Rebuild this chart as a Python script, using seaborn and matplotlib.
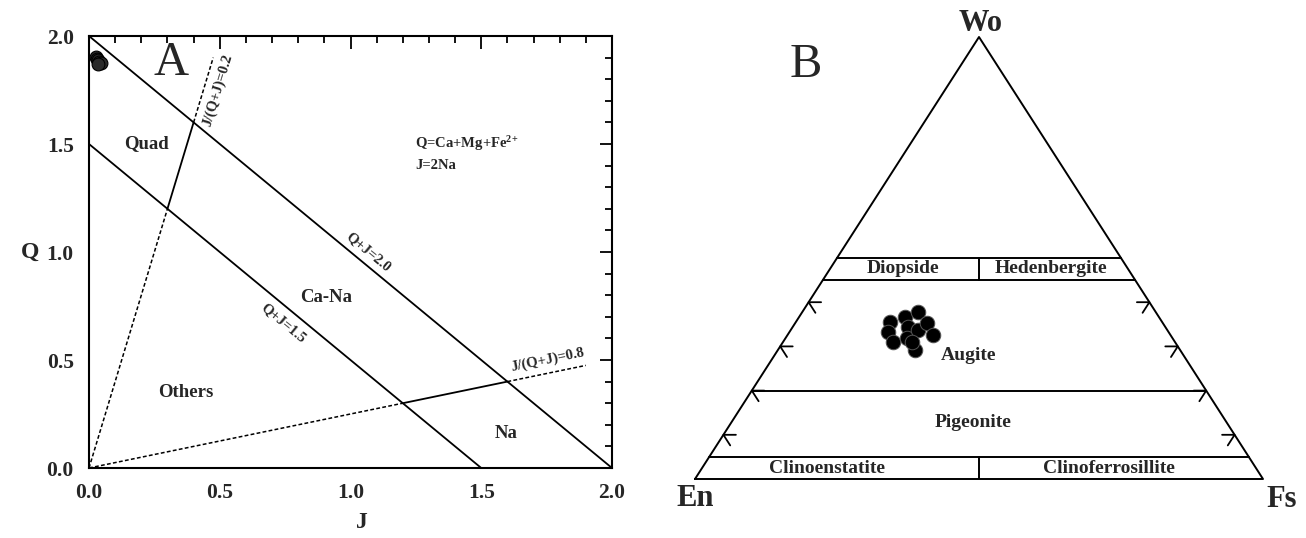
import numpy as np
import pandas as pd
import matplotlib
matplotlib.use('Agg')
import matplotlib.pyplot as plt
import seaborn as sns

# Panel A: Q-J diagram (Morimoto), analysed points near the top-left corner
qa_j = [0.025, 0.030, 0.035, 0.040, 0.045, 0.035]
qa_q = [1.905, 1.895, 1.890, 1.880, 1.875, 1.870]

sum_lines = [2.0, 1.5]                  # Q+J = const boundaries
ratio_lines = [0.2, 0.8]                # J/(Q+J) = const boundaries
ratio_breaks = [0.0, 1.5, 2.0, 2.375]   # Q+J values where the ratio lines change style

# Panel B: Wo-En-Fs ternary (mol %)
px_wo = [35.5, 33.3, 31.0, 36.6, 34.4, 31.9, 29.2, 37.8, 33.7, 35.3, 32.6, 31.0]
px_fs = [16.6, 17.3, 19.4, 18.6, 20.3, 21.4, 24.1, 20.4, 22.4, 23.2, 25.6, 22.7]

field_wo = [5, 20, 45, 50]              # horizontal field boundaries
split_bands = [(0, 5), (45, 50)]        # bands split at En = Fs
tick_wo = [10, 20, 30, 40]

sns.set_theme(style='white')
plt.rcParams['font.family'] = ['Liberation Serif', 'DejaVu Serif']
plt.rcParams['font.weight'] = 'bold'
plt.rcParams['mathtext.fontset'] = 'custom'
plt.rcParams['mathtext.rm'] = 'Liberation Serif:bold'
plt.rcParams['mathtext.bf'] = 'Liberation Serif:bold'
plt.rcParams['mathtext.default'] = 'bf'

W, H = 1306, 538
fig = plt.figure(figsize=(W / 100, H / 100), dpi=100)
fig.patch.set_facecolor('white')

# ---------------- Panel A ----------------
ax = fig.add_axes([89 / W, 1 - 468 / H, 523 / W, 432 / H])
ax.set_xlim(0, 2)
ax.set_ylim(0, 2)
lw = 1.3
for s in sum_lines:
    ax.plot([0, s], [s, 0], color='black', lw=lw)
for r in ratio_lines:
    for b0, b1 in zip(ratio_breaks[:-1], ratio_breaks[1:]):
        solid = (b0, b1) == (1.5, 2.0)
        ax.plot([r * b0, r * b1], [(1 - r) * b0, (1 - r) * b1], color='black',
                lw=lw if solid else 1.1,
                linestyle='-' if solid else (0, (2.5, 1.5)))

df_a = pd.DataFrame({'J': qa_j, 'Q': qa_q})
sns.scatterplot(data=df_a, x='J', y='Q', ax=ax, s=85, color='#2a2a2a',
                edgecolor='black', linewidth=0.8, zorder=5, clip_on=False)

ax.set_xticks([0, 0.5, 1.0, 1.5, 2.0])
ax.set_yticks([0, 0.5, 1.0, 1.5, 2.0])
ax.set_xticks(np.arange(0, 2.01, 0.1), minor=True)
ax.set_yticks(np.arange(0, 2.01, 0.1), minor=True)
ax.set_xticklabels(['0.0', '0.5', '1.0', '1.5', '2.0'])
ax.set_yticklabels(['0.0', '0.5', '1.0', '1.5', '2.0'])
ax.tick_params(which='both', direction='in', top=True, right=True, width=1.3, color='black')
ax.tick_params(which='major', length=9, labelsize=15.5, pad=11)
ax.tick_params(which='minor', length=5)
for lab in ax.get_xticklabels() + ax.get_yticklabels():
    lab.set_fontweight('bold')
for sp in ax.spines.values():
    sp.set_color('black')
    sp.set_linewidth(1.5)
ax.set_xlabel('J', fontsize=17, fontweight='bold', va='center')
ax.set_ylabel('Q', fontsize=17, fontweight='bold', rotation=0, va='center')
ax.xaxis.set_label_coords(0.522, -0.125)
ax.yaxis.set_label_coords(-0.113, 0.5)

ax.text(0.314, 1.875, 'A', fontsize=35, fontweight='normal', ha='center', va='center')
ax.text(0.218, 1.50, 'Quad', fontsize=13.5, ha='center', va='center')
ax.text(0.906, 0.79, 'Ca-Na', fontsize=13.5, ha='center', va='center')
ax.text(0.37, 0.35, 'Others', fontsize=13.5, ha='center', va='center')
ax.text(1.595, 0.162, 'Na', fontsize=13.5, ha='center', va='center')
ax.text(1.247, 1.50, r'Q=Ca+Mg+Fe$^{2{+}}$', fontsize=10.5, ha='left', va='center')
ax.text(1.247, 1.40, 'J=2Na', fontsize=10.5, ha='left', va='center')
ang_sum = -np.degrees(np.arctan(216 / 261.5))
ax.text(1.067, 1.0, 'Q+J=2.0', fontsize=10.5, rotation=ang_sum, ha='center', va='center')
ax.text(0.742, 0.671, 'Q+J=1.5', fontsize=10.5, rotation=ang_sum, ha='center', va='center')
ax.text(0.493, 1.75, 'J/(Q+J)=0.2', fontsize=10.5,
        rotation=np.degrees(np.arctan(4 * 216 / 261.5)), ha='center', va='center')
ax.text(1.755, 0.50, 'J/(Q+J)=0.8', fontsize=10.5,
        rotation=np.degrees(np.arctan(0.25 * 216 / 261.5)), ha='center', va='center')

# ---------------- Panel B ----------------
bx = fig.add_axes([695 / W, 1 - 479 / H, 568 / W, 442 / H])
bx.set_xlim(0, 100)
bx.set_ylim(0, 100)
bx.axis('off')

tlw = 1.4
bx.plot([0, 50, 100, 0], [0, 100, 0, 0], color='black', lw=tlw, clip_on=False)
for w in field_wo:
    bx.plot([w / 2, 100 - w / 2], [w, w], color='black', lw=tlw, clip_on=False)
for w0, w1 in split_bands:
    bx.plot([50, 50], [w0, w1], color='black', lw=tlw)

# ternary tick marks: one arm along Wo = const, one parallel to the opposite edge
arm_h, arm_dx, arm_dy = 2.2, 1.2, 2.4
for w in tick_wo:
    xl, xr = w / 2, 100 - w / 2
    bx.plot([xl + arm_h, xl, xl + arm_dx], [w, w, w - arm_dy], color='black', lw=1.3)
    bx.plot([xr - arm_h, xr, xr - arm_dx], [w, w, w - arm_dy], color='black', lw=1.3)

df_b = pd.DataFrame({'Wo': px_wo, 'Fs': px_fs})
df_b['x'] = df_b['Fs'] + df_b['Wo'] / 2
sns.scatterplot(data=df_b, x='x', y='Wo', ax=bx, s=110, color='black',
                edgecolor='#555555', linewidth=0.7, zorder=5)
bx.set_xlabel('')
bx.set_ylabel('')

bx.text(50.2, 103.0, 'Wo', fontsize=22, ha='center', va='center', clip_on=False)
bx.text(0.0, -4.3, 'En', fontsize=22, ha='center', va='center', clip_on=False)
bx.text(103.3, -4.7, 'Fs', fontsize=22, ha='center', va='center', clip_on=False)
bx.text(19.5, 93.7, 'B', fontsize=35, fontweight='normal', ha='center', va='center')
bx.text(36.6, 47.6, 'Diopside', fontsize=14, ha='center', va='center')
bx.text(62.7, 47.6, 'Hedenbergite', fontsize=14, ha='center', va='center')
bx.text(48.1, 28.0, 'Augite', fontsize=14, ha='center', va='center')
bx.text(48.9, 12.7, 'Pigeonite', fontsize=14, ha='center', va='center')
bx.text(23.2, 2.3, 'Clinoenstatite', fontsize=14, ha='center', va='center')
bx.text(72.9, 2.3, 'Clinoferrosillite', fontsize=14, ha='center', va='center')

fig.savefig('out.png', dpi=100, facecolor='white')
